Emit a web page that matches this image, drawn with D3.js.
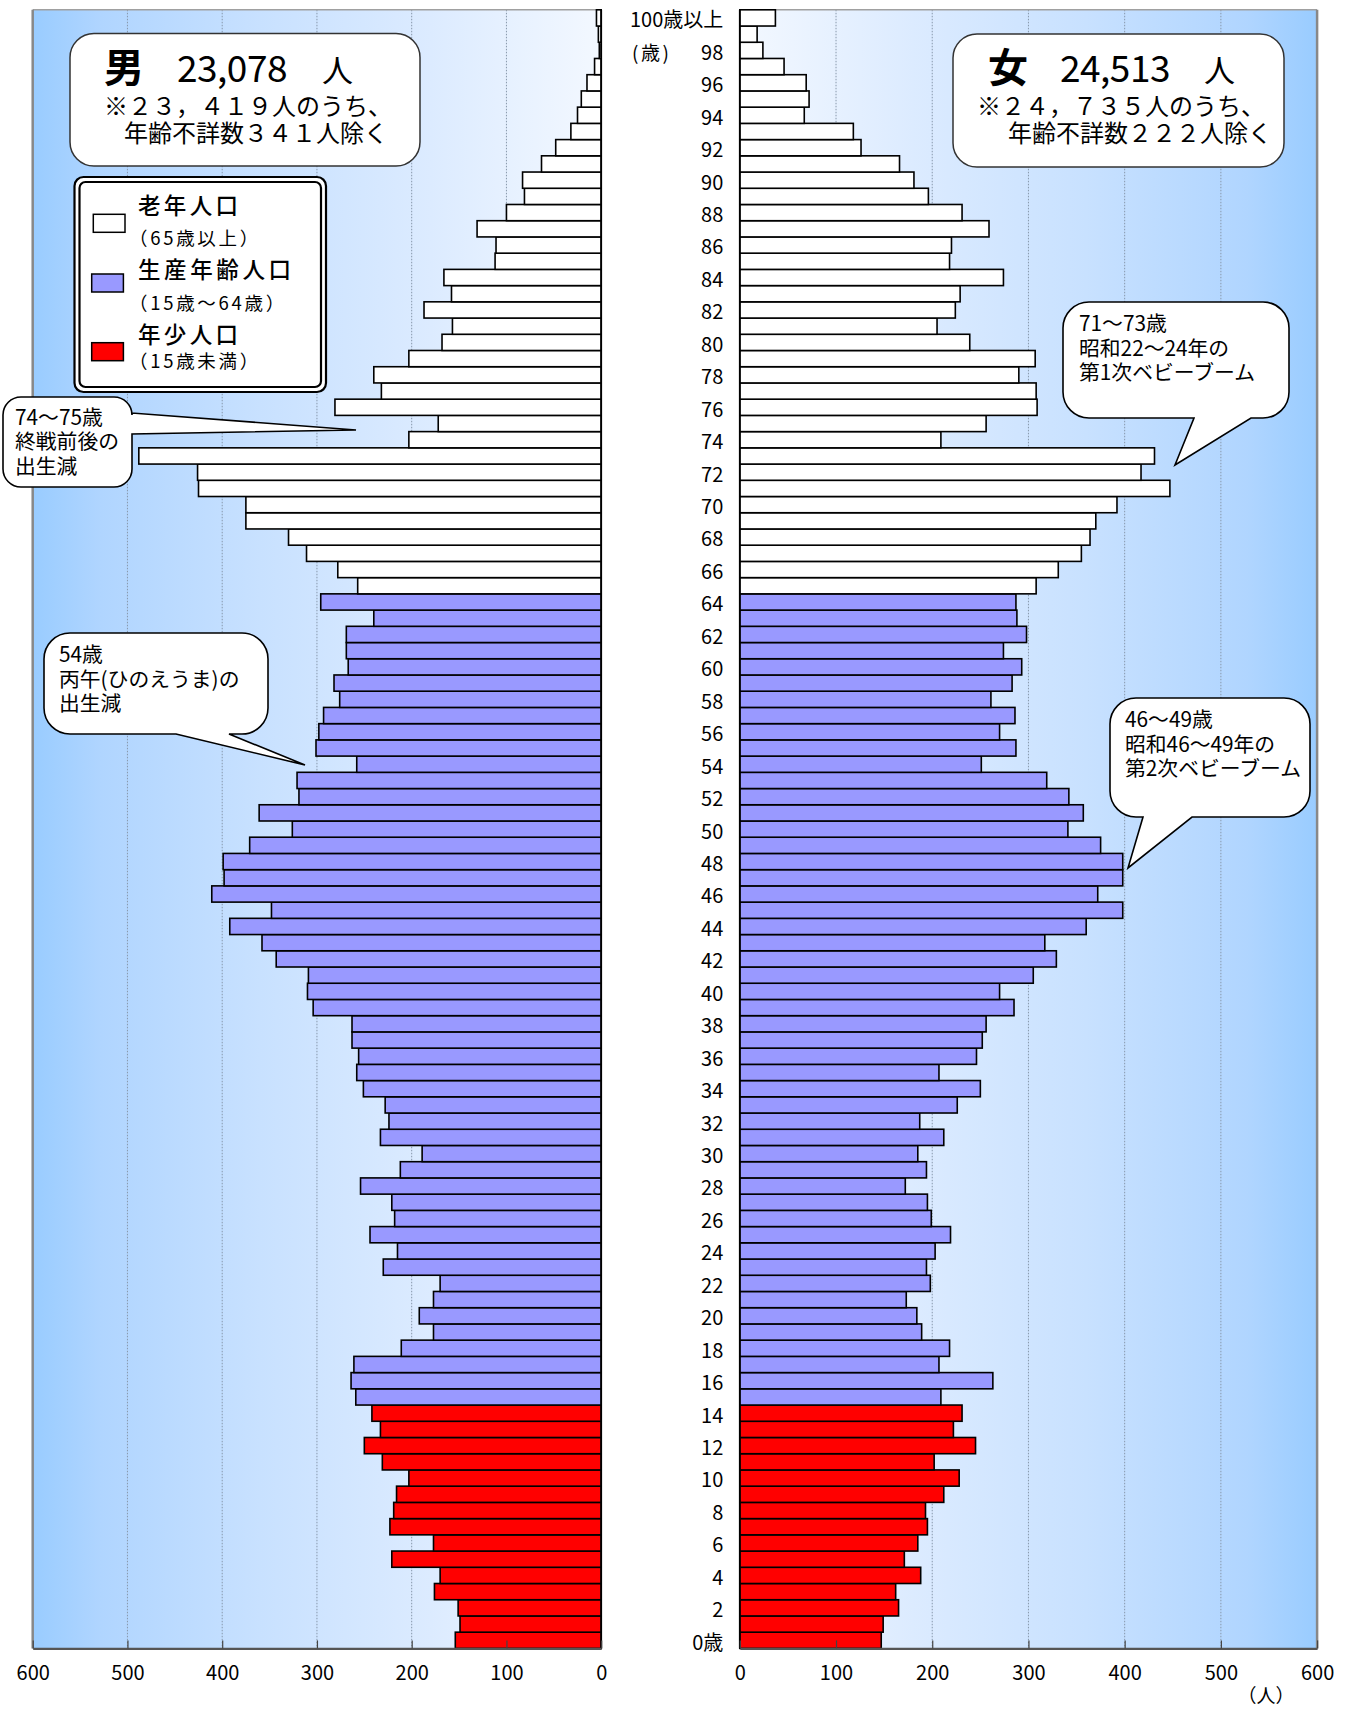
<!DOCTYPE html>
<html><head><meta charset="utf-8">
<script src="https://cdn.jsdelivr.net/npm/d3@7"></script>
<style>
body{margin:0;background:#fff;}
svg{display:block;}
text{font-family:"Noto Sans CJK JP","Noto Sans",sans-serif;fill:#000;}
</style>
</head><body>
<svg id="chart" width="1352" height="1709"></svg>
<script>
// ---------- data ----------
const ages = d3.range(0, 101); // 0..100 (100 = 100歳以上)
const male = [154,149,151,176,170,221,177,223,219,216,203,231,250,233,242,
  259,264,261,211,177,192,177,170,230,215,244,218,221,254,212,189,233,224,228,251,258,256,263,263,304,
  310,309,343,358,392,348,411,398,399,371,326,361,319,321,258,301,298,293,276,282,267,269,269,240,296,
  257,278,311,330,375,375,425,426,488,203,172,281,232,240,203,168,157,187,158,166,112,111,131,100,81,
  83,63,48,32,25,21,15,7,2,3,5];
const female = [147,149,165,162,188,171,185,195,193,212,228,202,245,222,231,
  209,263,207,218,189,184,173,198,194,203,219,199,195,172,194,185,212,187,226,250,207,246,252,256,285,
  270,305,329,317,360,398,372,398,398,375,341,357,342,319,251,287,270,286,261,283,293,274,298,288,287,
  308,331,355,364,370,392,447,417,431,209,256,309,308,290,307,239,205,224,229,274,218,220,259,231,196,
  181,166,126,118,67,72,69,46,24,18,37];
const groupNames = ["老年人口","生産年齢人口","年少人口"];
const groupSubs  = ["（65歳以上）","（15歳～64歳）","（15歳未満）"];
const groupColors = ["#FFFFFF","#9999FF","#FF0000"];
const xTicks = [0,100,200,300,400,500,600];
const ageTicks = d3.range(0, 101, 2);
const maleTitle = ["男","23,078","人","※２３，４１９人のうち、","年齢不詳数３４１人除く"];
const femaleTitle = ["女","24,513","人","※２４，７３５人のうち、","年齢不詳数２２２人除く"];
const notes = [
  ["74～75歳","終戦前後の","出生減"],
  ["54歳","丙午(ひのえうま)の","出生減"],
  ["71～73歳","昭和22～24年の","第1次ベビーブーム"],
  ["46～49歳","昭和46～49年の","第2次ベビーブーム"]
];
function groupOf(age){ return age >= 65 ? 0 : (age >= 15 ? 1 : 2); }

// ---------- layout ----------
const svg = d3.select("#chart");
const TOP = 9.8, BOT = 1648.4;
const LX0 = 32.7, LX1 = 601.2, RX0 = 739.8, RX1 = 1317.1;

const y = d3.scaleBand().domain(ages).range([BOT, TOP]).paddingInner(0).paddingOuter(0);
const xL = d3.scaleLinear().domain([0, 600]).range([LX1, LX0]);
const xR = d3.scaleLinear().domain([0, 600]).range([RX0, RX1]);

// gradients
const defs = svg.append("defs");
function grad(id, stops){
  const g = defs.append("linearGradient").attr("id", id).attr("x1","0").attr("x2","1").attr("y1","0").attr("y2","0");
  stops.forEach(s => g.append("stop").attr("offset", s[0]).attr("stop-color", s[1]));
}
const gStops = [["0%","#99CCFF"],["12%","#B0D5FF"],["40%","#C8E1FF"],["70%","#DCEBFF"],["100%","#F3F8FF"]];
grad("gL", gStops);
grad("gR", gStops.map(s => [(100 - parseFloat(s[0])) + "%", s[1]]).reverse());

svg.append("rect").attr("x", LX0).attr("y", TOP).attr("width", LX1 - LX0).attr("height", BOT - TOP).attr("fill", "url(#gL)");
svg.append("rect").attr("x", RX0).attr("y", TOP).attr("width", RX1 - RX0).attr("height", BOT - TOP).attr("fill", "url(#gR)");

// gridlines
const gridVals = [100,200,300,400,500];
svg.append("g").selectAll("line").data(gridVals).join("line")
  .attr("x1", d => xL(d)).attr("x2", d => xL(d)).attr("y1", TOP).attr("y2", BOT)
  .attr("stroke", "#8797ab").attr("stroke-width", 1).attr("stroke-dasharray", "1.5,1.5");
svg.append("g").selectAll("line").data(gridVals).join("line")
  .attr("x1", d => xR(d)).attr("x2", d => xR(d)).attr("y1", TOP).attr("y2", BOT)
  .attr("stroke", "#8797ab").attr("stroke-width", 1).attr("stroke-dasharray", "1.5,1.5");

// frames
svg.append("line").attr("x1", LX0).attr("x2", LX1).attr("y1", TOP).attr("y2", TOP).attr("stroke", "#a0a0a0").attr("stroke-width", 1.5);
svg.append("line").attr("x1", LX0).attr("x2", LX0).attr("y1", TOP).attr("y2", BOT).attr("stroke", "#888").attr("stroke-width", 2.5);
svg.append("line").attr("x1", RX0).attr("x2", RX1).attr("y1", TOP).attr("y2", TOP).attr("stroke", "#a0a0a0").attr("stroke-width", 1.5);
svg.append("line").attr("x1", RX1).attr("x2", RX1).attr("y1", TOP).attr("y2", BOT).attr("stroke", "#888").attr("stroke-width", 2.5);

// bars
svg.append("g").selectAll("rect").data(ages).join("rect")
  .attr("x", a => xL(male[a])).attr("y", a => y(a))
  .attr("width", a => xL(0) - xL(male[a])).attr("height", y.bandwidth())
  .attr("fill", a => groupColors[groupOf(a)]).attr("stroke", "#000").attr("stroke-width", 1.6);
svg.append("g").selectAll("rect").data(ages).join("rect")
  .attr("x", xR(0)).attr("y", a => y(a))
  .attr("width", a => xR(female[a]) - xR(0)).attr("height", y.bandwidth())
  .attr("fill", a => groupColors[groupOf(a)]).attr("stroke", "#000").attr("stroke-width", 1.6);

// center baselines
svg.append("line").attr("x1", LX1).attr("x2", LX1).attr("y1", TOP).attr("y2", BOT).attr("stroke", "#000").attr("stroke-width", 1.8);
svg.append("line").attr("x1", RX0).attr("x2", RX0).attr("y1", TOP).attr("y2", BOT).attr("stroke", "#000").attr("stroke-width", 1.8);

// bottom axes
function styleAxis(g){
  g.select(".domain").attr("stroke", "#555").attr("stroke-width", 2.2);
  g.selectAll(".tick line").attr("stroke", "#444").attr("stroke-width", 1.2);
  g.selectAll(".tick text").attr("font-size", 20).attr("font-family", '"Noto Sans CJK JP",sans-serif').attr("fill", "#000");
}
svg.append("g").attr("transform", `translate(0,${BOT})`)
  .call(d3.axisBottom(xL).tickValues(xTicks).tickSizeInner(-8).tickSizeOuter(0).tickPadding(17))
  .call(styleAxis);
svg.append("g").attr("transform", `translate(0,${BOT})`)
  .call(d3.axisBottom(xR).tickValues(xTicks).tickSizeInner(-8).tickSizeOuter(0).tickPadding(17))
  .call(styleAxis);
svg.append("text").attr("x", 1266).attr("y", 1703).attr("text-anchor", "middle").attr("font-size", 19).text("（人）");

// age labels
const ageAxis = svg.append("g").attr("transform", `translate(${RX0},3.0)`)
  .call(d3.axisLeft(y).tickValues(ageTicks).tickSize(0).tickPadding(16.5)
    .tickFormat(a => a === 0 ? "0歳" : (a === 100 ? "100歳以上" : String(a))));
ageAxis.select(".domain").remove();
ageAxis.selectAll("text").attr("font-size", 20).attr("font-family", '"Noto Sans CJK JP",sans-serif').attr("fill", "#000");
svg.append("text").attr("x", 632).attr("y", y(98) + y.bandwidth()/2 + 10)
  .attr("font-size", 19).attr("letter-spacing", 2.5).text("(歳)");

// title boxes
function titleBox(x0, y0, w, h, t, xs){
  svg.append("rect").attr("x", x0).attr("y", y0).attr("width", w).attr("height", h)
    .attr("rx", 24).attr("ry", 24).attr("fill", "#fff").attr("stroke", "#333").attr("stroke-width", 1.5);
  svg.append("text").attr("x", xs[0]).attr("y", y0 + 48).attr("font-size", 40).attr("font-weight", "bold").text(t[0]);
  svg.append("text").attr("x", xs[1]).attr("y", y0 + 48).attr("font-size", 37).attr("letter-spacing", -0.5).text(t[1]);
  svg.append("text").attr("x", xs[2]).attr("y", y0 + 48).attr("font-size", 31).text(t[2]);
  svg.append("text").attr("x", xs[3]).attr("y", y0 + 81).attr("font-size", 24).text(t[3]);
  svg.append("text").attr("x", xs[4]).attr("y", y0 + 108).attr("font-size", 24).text(t[4]);
}
titleBox(70, 33.5, 350, 132.5, maleTitle, [104, 177, 322, 104, 124]);
titleBox(953, 34, 331, 133, femaleTitle, [988, 1060, 1204, 977, 1008]);

// legend
const lg = svg.append("g");
lg.append("rect").attr("x", 74.5).attr("y", 177).attr("width", 251.5).attr("height", 215)
  .attr("rx", 9).attr("fill", "#fff").attr("stroke", "#000").attr("stroke-width", 2.2);
lg.append("rect").attr("x", 79.5).attr("y", 182).attr("width", 241.5).attr("height", 205)
  .attr("rx", 6).attr("fill", "none").attr("stroke", "#000").attr("stroke-width", 2.2);
const legBox = [[93.3, 214.3], [91.7, 274], [91.7, 342.7]];
const legTitle = [[213.5, 100], [278, 153], [343, 100]];
const legSub = [245, 310, 368];
groupNames.forEach((n, i) => {
  lg.append("rect").attr("x", legBox[i][0]).attr("y", legBox[i][1]).attr("width", 31.7).attr("height", 18)
    .attr("fill", groupColors[i]).attr("stroke", "#000").attr("stroke-width", 1.5);
  lg.append("text").attr("x", 138).attr("y", legTitle[i][0]).attr("font-size", 22.5).attr("font-weight", 500)
    .attr("textLength", legTitle[i][1]).attr("lengthAdjust", "spacing").text(n);
  lg.append("text").attr("x", 129).attr("y", legSub[i]).attr("font-size", 18.5)
    .attr("letter-spacing", 2.7).text(groupSubs[i]);
});

// callouts
function calloutPath(x0, y0, x1, y1, r, tail){
  let p = `M${x0+r},${y0}H${x1-r}A${r},${r} 0 0 1 ${x1},${y0+r}`;
  if (tail.side === "right") p += `V${tail.a}L${tail.tip[0]},${tail.tip[1]}L${x1},${tail.b}`;
  p += `V${y1-r}A${r},${r} 0 0 1 ${x1-r},${y1}`;
  if (tail.side === "bottom") p += `H${tail.b}L${tail.tip[0]},${tail.tip[1]}L${tail.a},${y1}`;
  p += `H${x0+r}A${r},${r} 0 0 1 ${x0},${y1-r}V${y0+r}A${r},${r} 0 0 1 ${x0+r},${y0}Z`;
  return p;
}
const callouts = [
  {box:[3, 397, 132, 487], r:18, tail:{side:"right", a:413, b:434, tip:[356, 430]}, tx:15, ty:[425, 449, 474]},
  {box:[44, 633, 268, 734], r:26, tail:{side:"bottom", a:176, b:229, tip:[305, 765]}, tx:59, ty:[662, 687, 711]},
  {box:[1063, 302, 1289, 418], r:26, tail:{side:"bottom", a:1194, b:1251, tip:[1175, 465]}, tx:1079, ty:[331, 356, 380]},
  {box:[1110, 698, 1310, 817], r:26, tail:{side:"bottom", a:1143, b:1192, tip:[1128, 868]}, tx:1125, ty:[727, 752, 776]}
];
callouts.forEach((c, i) => {
  svg.append("path").attr("d", calloutPath(...c.box, c.r, c.tail))
    .attr("fill", "#fff").attr("stroke", "#000").attr("stroke-width", 1.6).attr("stroke-linejoin", "miter");
  notes[i].forEach((line, j) => {
    svg.append("text").attr("x", c.tx).attr("y", c.ty[j]).attr("font-size", 20.8).text(line);
  });
});
</script>
</body></html>
